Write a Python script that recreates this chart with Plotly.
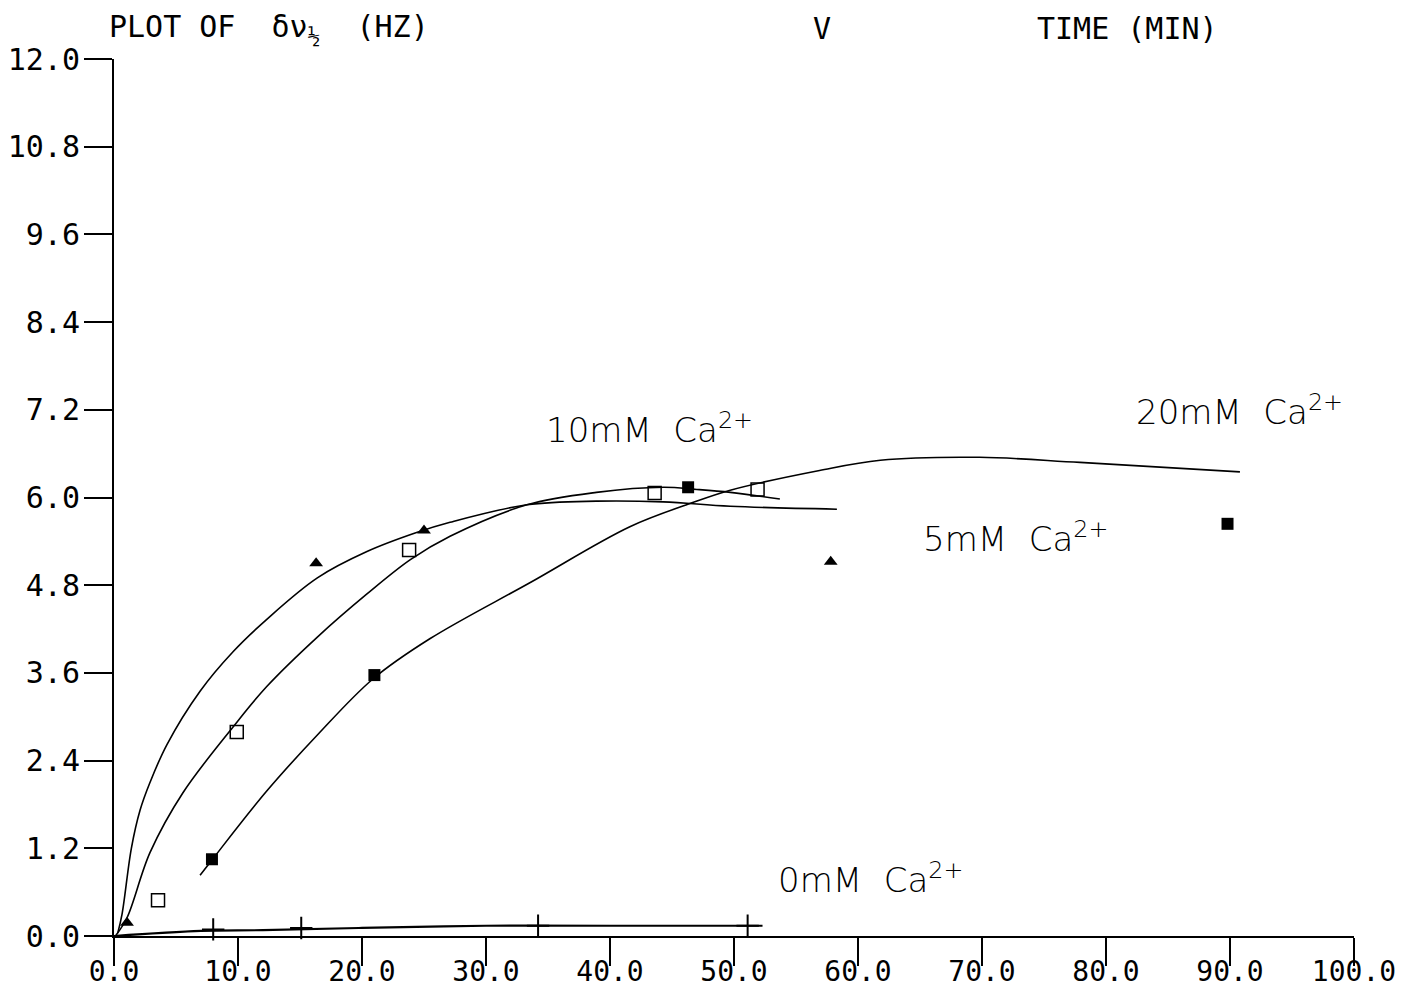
import plotly.graph_objects as go

# Measured points (time in min, linewidth in Hz)
tri_t = [1.05, 16.3, 25.0, 57.8]
tri_v = [0.18, 5.10, 5.55, 5.12]

osq_t = [3.55, 9.9, 23.8, 43.6, 51.9]
osq_v = [0.49, 2.79, 5.28, 6.06, 6.11]

fsq_t = [7.9, 21.0, 46.3, 89.8]
fsq_v = [1.05, 3.57, 6.14, 5.64]

plus_t = [8.0, 15.1, 34.2, 51.1]
plus_v = [0.09, 0.11, 0.14, 0.14]

# Hand-drawn fitted curves
tri_curve_t = [0.3, 0.65, 1.4, 2.1, 2.9, 4.27, 6.94, 9.6, 12.3, 16.4, 20.4, 24.4, 27.1,
               33.3, 38.9, 44.3, 49.7, 58.3]
tri_curve_v = [0.04, 0.3, 1.2, 1.72, 2.1, 2.62, 3.35, 3.89, 4.33, 4.90, 5.26, 5.52, 5.66,
               5.90, 5.95, 5.94, 5.88, 5.84]

osq_curve_t = [0.16, 1.05, 2.9, 5.56, 9.6, 12.3, 16.4, 20.4, 23.9, 27.1, 33.3, 38.9,
               44.3, 47.0, 49.7, 53.7]
osq_curve_v = [0.01, 0.25, 1.14, 1.96, 2.86, 3.41, 4.09, 4.68, 5.15, 5.47, 5.90, 6.07,
               6.14, 6.11, 6.07, 5.98]

fsq_curve_t = [6.94, 7.9, 12.3, 16.4, 20.9, 25.5, 33.5, 41.6, 46.5, 49.7, 56.9, 61.8,
               69.8, 77.9, 90.8]
fsq_curve_v = [0.83, 1.04, 1.98, 2.75, 3.52, 4.07, 4.83, 5.60, 5.92, 6.10, 6.37, 6.51,
               6.55, 6.48, 6.35]

plus_curve_t = [0.0, 7.0, 12.0, 20.0, 30.0, 40.0, 52.3]
plus_curve_v = [0.0, 0.07, 0.08, 0.11, 0.14, 0.14, 0.14]

x_ticks = [0, 10, 20, 30, 40, 50, 60, 70, 80, 90, 100]
x_tick_text = ["0.0", "10.0", "20.0", "30.0", "40.0", "50.0", "60.0", "70.0",
               "80.0", "90.0", "100.0"]
y_ticks = [0, 1.2, 2.4, 3.6, 4.8, 6.0, 7.2, 8.4, 9.6, 10.8, 12.0]
y_tick_text = ["0.0", "1.2", "2.4", "3.6", "4.8", "6.0", "7.2", "8.4", "9.6",
               "10.8", "12.0"]

labels = ["10mM  Ca<sup>2+</sup>", "20mM  Ca<sup>2+</sup>",
          "5mM  Ca<sup>2+</sup>", "0mM  Ca<sup>2+</sup>"]
label_t = [43.2, 90.8, 72.7, 61.0]
label_v = [6.95, 7.2, 5.46, 0.79]

MONO = "DejaVu Sans Mono"
HAND = "DejaVu Sans"

fig = go.Figure()

line = dict(color="black", width=1.6)
for t, v in [(tri_curve_t, tri_curve_v), (osq_curve_t, osq_curve_v),
             (fsq_curve_t, fsq_curve_v)]:
    fig.add_trace(go.Scatter(x=t, y=v, mode="lines",
                             line=dict(line, shape="spline", smoothing=1.0),
                             hoverinfo="skip", cliponaxis=False))
fig.add_trace(go.Scatter(x=plus_curve_t, y=plus_curve_v, mode="lines",
                         line=dict(color="black", width=2.2, shape="spline"),
                         cliponaxis=False))

fig.add_trace(go.Scatter(x=tri_t, y=tri_v, mode="markers", cliponaxis=False,
                         marker=dict(symbol="triangle-up", size=12, color="black")))
fig.add_trace(go.Scatter(x=osq_t, y=osq_v, mode="markers", cliponaxis=False,
                         marker=dict(symbol="square-open", size=13, color="black",
                                     line=dict(width=1.5, color="black"))))
fig.add_trace(go.Scatter(x=fsq_t, y=fsq_v, mode="markers", cliponaxis=False,
                         marker=dict(symbol="square", size=12, color="black")))
fig.add_trace(go.Scatter(x=plus_t, y=plus_v, mode="markers", cliponaxis=False,
                         marker=dict(symbol="cross-thin", size=16,
                                     line=dict(width=2, color="black"))))

for txt, t, v in zip(labels, label_t, label_v):
    fig.add_annotation(x=t, y=v, text=txt, showarrow=False,
                       font=dict(family=HAND, size=34, color="black", weight=300))

top = dict(showarrow=False, xref="paper", yref="paper", y=1.035, yanchor="middle",
           xanchor="left", font=dict(family=MONO, size=30, color="black"))
fig.add_annotation(top, x=-0.006, text="PLOT OF  δν<sub>½</sub>  (HZ)")
fig.add_annotation(top, x=0.562, text="V")
fig.add_annotation(top, x=0.743, text="TIME (MIN)")

axis_common = dict(showline=True, linecolor="black", linewidth=2, ticks="outside",
                   ticklen=28, tickwidth=2, tickcolor="black", showgrid=False,
                   zeroline=False, automargin=False)
fig.update_xaxes(axis_common, range=[0, 100], tickvals=x_ticks, ticktext=x_tick_text,
                 ticklabelstandoff=-19,
                 tickfont=dict(family=MONO, size=28, color="black"))
fig.update_yaxes(axis_common, range=[0, 12], tickvals=y_ticks, ticktext=y_tick_text,
                 ticklabelstandoff=-2,
                 tickfont=dict(family=MONO, size=30, color="black"))

fig.update_layout(width=1423, height=987, showlegend=False,
                  plot_bgcolor="white", paper_bgcolor="white",
                  margin=dict(l=114, r=69, t=59, b=51, autoexpand=False))

fig.write_html("out.html")
